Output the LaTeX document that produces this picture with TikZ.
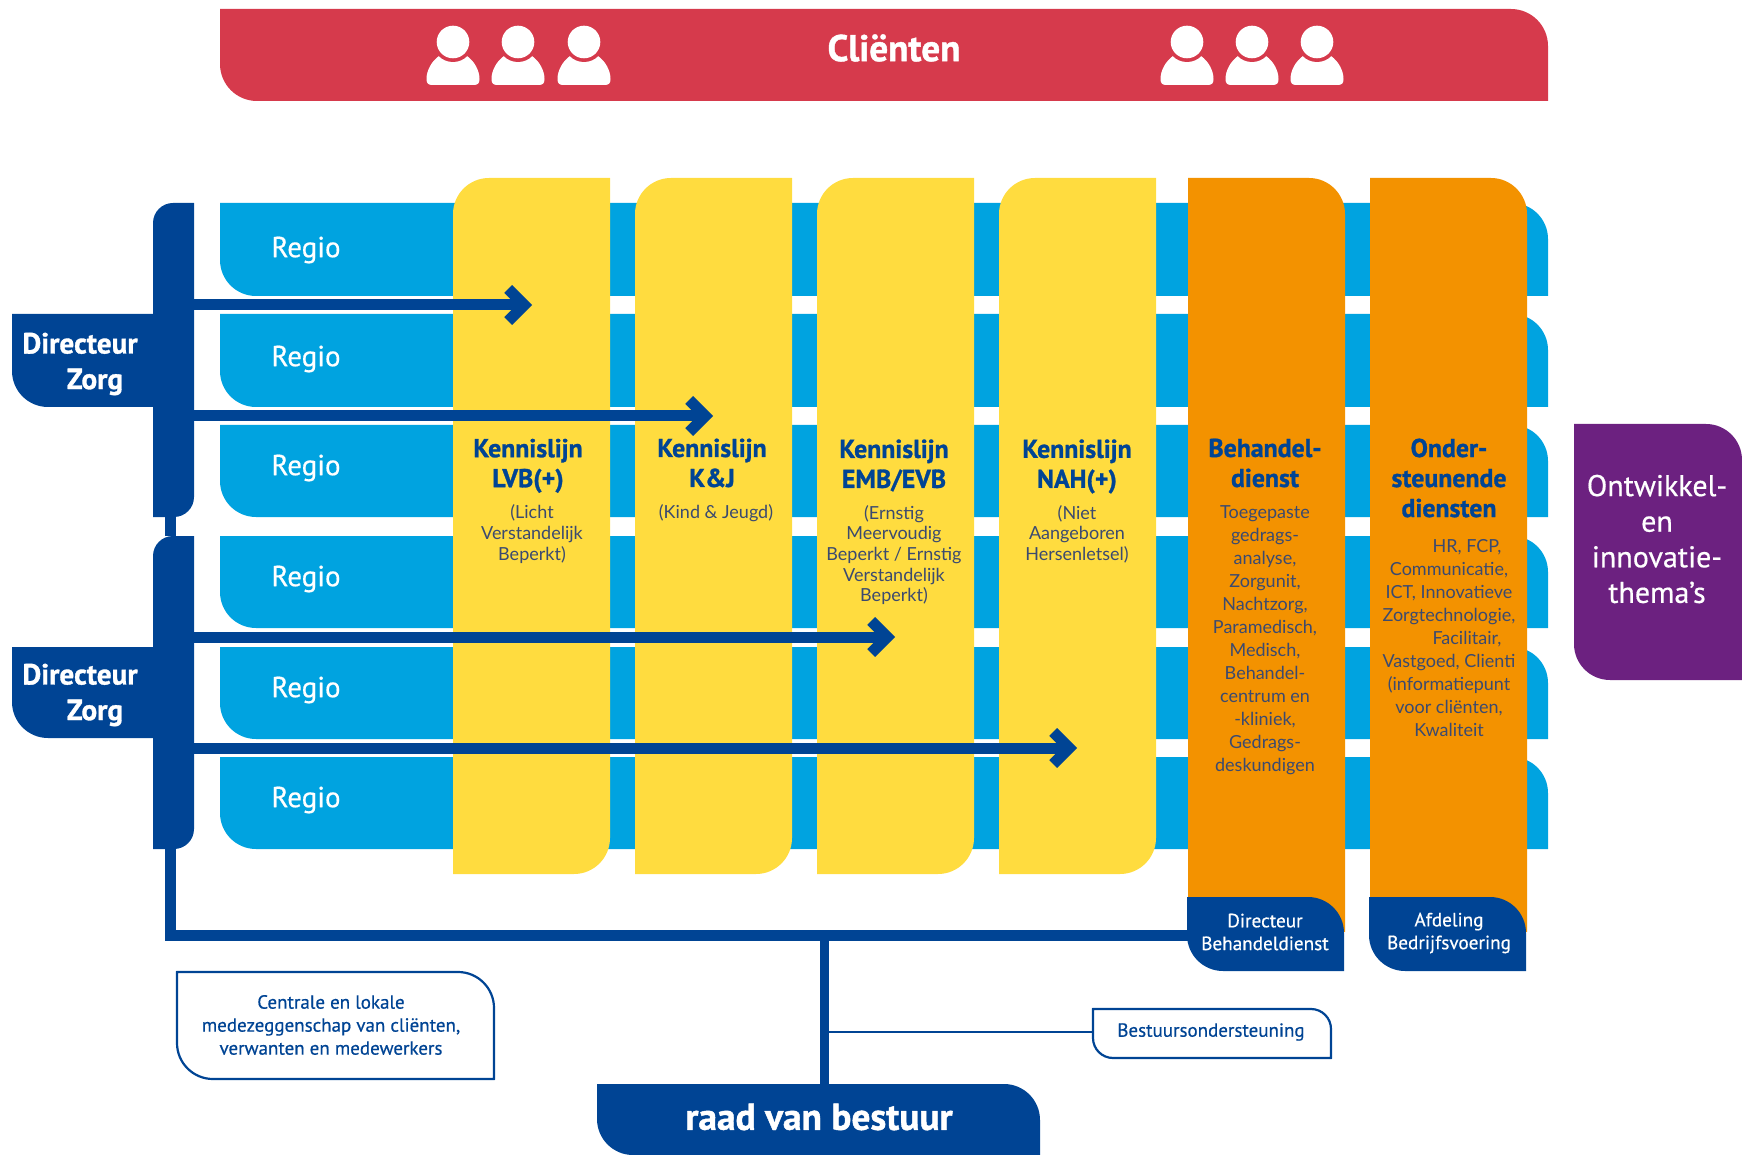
\documentclass[tikz,border=0pt]{standalone}
\usepackage{fontspec}
\usetikzlibrary{arrows.meta}
\setmainfont{Lato}
\newfontface\hdb{PT Sans Bold}[FakeBold=1.1]
\newfontface\hdm{PT Sans}[FakeBold=0.5]
\definecolor{redc}{HTML}{D63A4C}
\definecolor{bluec}{HTML}{00A3E0}
\definecolor{yelc}{HTML}{FFDC3F}
\definecolor{orac}{HTML}{F39200}
\definecolor{navc}{HTML}{004494}
\definecolor{purc}{HTML}{6C2180}
\definecolor{subc}{HTML}{3B4A70}
\newcommand\sz[2]{\fontsize{#1}{#2}\selectfont}
\tikzset{
  x=0.5pt,y=0.5pt,
  redbox/.style={fill=redc},
  rowbox/.style={fill=bluec},
  yelbox/.style={fill=yelc},
  orabox/.style={fill=orac},
  navbox/.style={fill=navc},
  purbox/.style={fill=purc},
  linebox/.style={fill=white,draw=navc,line width=1.1pt},
  regio/.style={text=white,font=\hdm\sz{14.5}{17}},
  ktitle/.style={text=navc,align=center,font=\hdb\sz{12.9}{15}},
  ksub/.style={text=subc,align=center,font=\sz{9}{11.5}},
  ksuby/.style={text=subc,align=center,font=\sz{9}{10.3}},
  dirz/.style={text=white,align=center,font=\hdb\sz{14.6}{17.8}},
  capt/.style={text=white,align=center,font=\hdm\sz{9.6}{11.4}},
  notet/.style={text=navc,align=center,font=\hdm\sz{9.5}{11.5}},
  flow/.style={draw=navc,line width=5.5pt,-{Straight Barb[length=8pt,width=16pt,line width=5.5pt]}},
  trunk/.style={draw=navc,line width=5.5pt},
  stem/.style={draw=navc,line width=4.5pt},
  thin/.style={draw=navc,line width=1.2pt},
  person/.pic={
    \fill[white] (-21,-43) .. controls (-25,-43) and (-26.5,-41) .. (-26.5,-37)
      .. controls (-26.5,-28) and (-21,-19) .. (-14,-14) -- (14,-14)
      .. controls (21,-19) and (26.5,-28) .. (26.5,-37)
      .. controls (26.5,-41) and (25,-43) .. (21,-43) -- cycle;
    \fill[redc] (0,0) circle[radius=20];
    \fill[white] (0,0) circle[radius=16.3];
  }
}
% \blob{style}{name}{x1}{y1}{x2}{y2}{r tl}{r tr}{r br}{r bl}
\newcommand\blob[6]{\def\bs{#1}\def\bn{#2}\def\bxa{#3}\def\bya{#4}\def\bxb{#5}\def\byb{#6}\blobr}
\newcommand\blobr[4]{%
  \pgfmathsetlengthmacro\bw{(\bxb-\bxa)*0.5pt}%
  \pgfmathsetlengthmacro\bh{(\byb-\bya)*0.5pt}%
  \node[inner sep=0pt,outer sep=0pt,minimum width=\bw,minimum height=\bh] (\bn) at ({(\bxa+\bxb)/2},{-(\bya+\byb)/2}) {};
  \path[\bs] ({\bxa+#1},-\bya) -- ({\bxb-#2},-\bya)
    arc[start angle=90,end angle=0,radius=#2] -- (\bxb,{-\byb+#3})
    arc[start angle=0,end angle=-90,radius=#3] -- ({\bxa+#4},-\byb)
    arc[start angle=270,end angle=180,radius=#4] -- (\bxa,{-\bya-#1})
    arc[start angle=180,end angle=90,radius=#1] -- cycle;
}
\begin{document}
\begin{tikzpicture}
\useasboundingbox (0,0) rectangle (1742,-1155);
% banner
\blob{redbox}{clients}{220}{9}{1548}{101}{0.01}{37}{0.01}{37}
\node[text=white,font=\hdb\sz{18.6}{20}] (clientt) at (894,-48) {Cliënten};
\foreach \n/\px in {a/453,b/518,c/584,d/1187,e/1252,f/1317}
  \pic (p\n) at (\px,-42) {person};
% rows
\blob{rowbox}{r1}{220}{203}{1548}{296}{0.01}{36}{0.01}{36}
\blob{rowbox}{r2}{220}{314}{1548}{407}{0.01}{36}{0.01}{36}
\blob{rowbox}{r3}{220}{425}{1548}{517}{0.01}{36}{0.01}{36}
\blob{rowbox}{r4}{220}{536}{1548}{628}{0.01}{36}{0.01}{36}
\blob{rowbox}{r5}{220}{647}{1548}{739}{0.01}{36}{0.01}{36}
\blob{rowbox}{r6}{220}{757}{1548}{849}{0.01}{36}{0.01}{36}
\node[regio] (t1) at (306,-250) {Regio};
\node[regio] (t2) at (306,-359) {Regio};
\node[regio] (t3) at (306,-468) {Regio};
\node[regio] (t4) at (306,-579) {Regio};
\node[regio] (t5) at (306,-690) {Regio};
\node[regio] (t6) at (306,-800) {Regio};
% columns
\blob{yelbox}{k1}{453}{178}{610}{874}{36}{0.01}{36}{0.01}
\blob{yelbox}{k2}{635}{178}{792}{874}{36}{0.01}{36}{0.01}
\blob{yelbox}{k3}{817}{178}{974}{874}{36}{0.01}{36}{0.01}
\blob{yelbox}{k4}{999}{178}{1156}{874}{36}{0.01}{36}{0.01}
\blob{orabox}{o1}{1188}{178}{1345}{932}{0.01}{36}{0.01}{0.01}
\blob{orabox}{o2}{1370}{178}{1527}{932}{0.01}{36}{0.01}{0.01}
% column texts
\node[ktitle,text depth=0pt] (k1t) at (528,-463) {Kennislijn\\LVB(+)};
\node[ksuby] (k1s) at (532,-534) {(Licht\\Verstandelijk\\Beperkt)};
\node[ktitle] (k2t) at (712,-463) {Kennislijn\\K\&J};
\node[ksuby] (k2s) at (716,-513) {(Kind \& Jeugd)};
\node[ktitle] (k3t) at (894,-465.5) {Kennislijn\\EMB/EVB};
\node[ksuby] (k3s) at (894,-555) {(Ernstig\\Meervoudig\\Beperkt / Ernstig\\Verstandelijk\\Beperkt)};
\node[ktitle] (k4t) at (1077,-466.5) {Kennislijn\\NAH(+)};
\node[ksuby] (k4s) at (1077,-534) {(Niet\\Aangeboren\\Hersenletsel)};
\node[ktitle] (o1t) at (1265,-463) {Behandel-\\dienst};
\node[ksub] (o1s) at (1265,-640.5) {Toegepaste\\gedrags-\\analyse,\\Zorgunit,\\Nachtzorg,\\Paramedisch,\\Medisch,\\Behandel-\\centrum en\\-kliniek,\\Gedrags-\\deskundigen};
\node[ktitle] (o2t) at (1449,-478) {Onder-\\steunende\\diensten};
\node[ksub] (o2s) at (1449,-638) {\hspace*{18pt}HR, FCP,\\Communicatie,\\ICT, Innovatieve\\Zorgtechnologie,\\\hspace*{18pt}Facilitair,\\Vastgoed, Clienti\\(informatiepunt\\voor cliënten,\\Kwaliteit};
% purple
\blob{purbox}{paars}{1574}{424}{1742}{680}{0.01}{36}{0.01}{36}
\node[text=white,align=center,font=\hdm\sz{15}{17.8}] (paarst) at (1657,-539) {Ontwikkel-\\en\\innovatie-\\thema’s};
% bars and directors
\blob{navbox}{barA}{153}{203}{194}{517}{20}{0.01}{20}{0.01}
\blob{navbox}{barB}{153}{536}{194}{849}{20}{0.01}{20}{0.01}
\blob{navbox}{dirA}{12}{314}{153.5}{407}{0.01}{0.01}{0.01}{36}
\blob{navbox}{dirB}{12}{647}{153.5}{738}{0.01}{0.01}{0.01}{36}
\node[dirz] (dirAt) at (80,-364) {Directeur\\\hspace*{15pt}Zorg};
\node[dirz] (dirBt) at (80,-695) {Directeur\\\hspace*{15pt}Zorg};
% caps
\blob{navbox}{capA}{1187}{897}{1344}{971}{0.01}{36}{0.01}{36}
\blob{navbox}{capB}{1369}{897}{1526}{971}{0.01}{36}{0.01}{36}
\node[capt] (capAt) at (1265,-932) {Directeur\\Behandeldienst};
\node[capt] (capBt) at (1449,-933) {Afdeling\\Bedrijfsvoering};
% notes and board
\blob{linebox}{mz}{177}{972}{494}{1079}{0.01}{36}{0.01}{36}
\node[notet] (mzt) at (331,-1025) {Centrale en lokale\\medezeggenschap van cliënten,\\verwanten en medewerkers};
\blob{linebox}{bo}{1093}{1009}{1331}{1058}{0.01}{20}{0.01}{20}
\node[notet] (bot) at (1211,-1032) {Bestuursondersteuning};
\blob{navbox}{rvb}{597}{1084}{1040}{1155}{0.01}{36}{0.01}{36}
\node[text=white,font=\hdb\sz{18.7}{21}] (rvbt) at (819,-1117) {raad van bestuur};
% connectors
\coordinate (a1) at (532,-305);
\coordinate (a2) at (713,-416);
\coordinate (a3) at (895,-637);
\coordinate (a4) at (1077,-748);
\draw[flow] (barA.east |- a1) -- (a1);
\draw[flow] (barA.east |- a2) -- (a2);
\draw[flow] (barB.east |- a3) -- (a3);
\draw[flow] (barB.east |- a4) -- (a4);
\draw[trunk] ([xshift=-1.5pt]barA.south) -- ([xshift=-1.5pt]barB.north);
\draw[trunk,line cap=rect] ([xshift=-1.5pt]barB.south) |- ([yshift=-.75pt]capA.west);
\coordinate (tj) at (824,-935);
\coordinate (bj) at (824,-1032);
\draw[stem] (tj) -- (tj |- rvb.north);
\draw[thin] (bj) -- (bj -| bo.west);
\end{tikzpicture}
\end{document}
